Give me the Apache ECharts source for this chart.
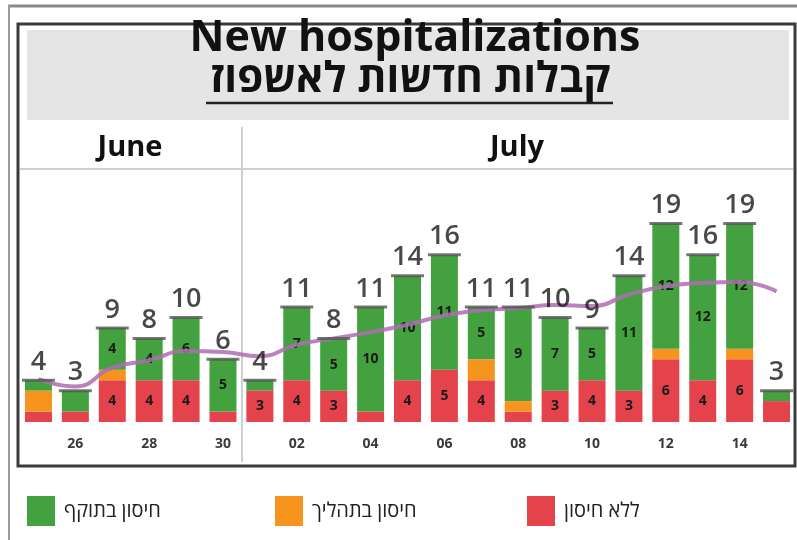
<!DOCTYPE html>
<html>
<head>
<meta charset="utf-8">
<script src="https://cdn.jsdelivr.net/npm/echarts@6/dist/echarts.min.js"></script>
<style>
  html, body { margin: 0; background: #fff; }
  #chart { width: 797px; height: 540px; }
</style>
</head>
<body>
<div id="chart"></div>
<script>
// June 25 .. July 15
const days = ['25', '26', '27', '28', '29', '30',
  '01', '02', '03', '04', '05', '06', '07', '08', '09', '10', '11', '12', '13', '14', '15']
const noVaccine = [1, 1, 4, 4, 4, 1, 3, 4, 3, 1, 4, 5, 4, 1, 3, 4, 3, 6, 4, 6, 2]
const inProcess = [2, 0, 1, 0, 0, 0, 0, 0, 0, 0, 0, 0, 2, 1, 0, 0, 0, 1, 0, 1, 0]
const vaccinated = [1, 2, 4, 4, 6, 5, 1, 7, 5, 10, 10, 11, 5, 9, 7, 5, 11, 12, 12, 12, 1]
const totals = [4, 3, 9, 8, 10, 6, 4, 11, 8, 11, 14, 16, 11, 11, 10, 9, 14, 19, 16, 19, 3]
const avgLine = [4.1, 3.4, 5.2, 5.9, 6.8, 6.7, 6.3, 7.4, 8.0, 8.6, 9.3, 10.2, 10.7, 10.9, 11.2, 11.1, 12.2, 13.0, 13.3, 13.4, 12.5]

const names = ['ללא חיסון', 'חיסון בתהליך', 'חיסון בתוקף']
const colors = ['#e5434c', '#f7941d', '#43a13f']

const font = 'Open Sans, DejaVu Sans, sans-serif'

const chart = echarts.init(document.getElementById('chart'))

const segLabel = {
  show: true,
  position: 'inside',
  color: '#1a1a1a',
  fontWeight: 'bold',
  fontSize: 14,
  fontFamily: font,
  formatter: p => (p.value >= 3 ? p.value : '')
}

chart.setOption({
  animation: false,
  grid: { left: 20, width: 775, top: 213, height: 209 },
  xAxis: {
    type: 'category',
    data: days,
    axisLine: { show: false },
    axisTick: { show: false },
    axisLabel: {
      interval: (idx) => idx % 2 === 1,
      margin: 15,
      fontSize: 14,
      fontWeight: 'bold',
      color: '#3a3a3a',
      fontFamily: font
    }
  },
  yAxis: {
    type: 'value',
    min: 0,
    max: 20,
    show: false,
    splitLine: { show: false }
  },
  legend: [0, 1, 2].map(i => ({
    data: [names[2 - i]],
    left: [22, 270, 522][i],
    top: 491,
    icon: 'rect',
    itemWidth: 28,
    itemHeight: 30,
    textStyle: { fontSize: 20, color: '#222', fontFamily: font, padding: [0, 0, 0, 4] },
    selectedMode: false
  })),
  graphic: [
    { type: 'line', shape: { x1: 8, y1: 6, x2: 797, y2: 6 }, style: { stroke: '#8a8a8a', lineWidth: 3 } },
    { type: 'line', shape: { x1: 9, y1: 5, x2: 9, y2: 540 }, style: { stroke: '#9a9a9a', lineWidth: 2 } },
    { type: 'rect', shape: { x: 27, y: 30, width: 762, height: 90 }, style: { fill: '#e5e5e5' } },
    { type: 'rect', shape: { x: 18, y: 24, width: 777, height: 442 }, style: { fill: 'none', stroke: '#3a3a3a', lineWidth: 3 } },
    { type: 'line', shape: { x1: 20, y1: 169, x2: 793, y2: 169 }, style: { stroke: '#cfcfcf', lineWidth: 2 } },
    { type: 'line', shape: { x1: 242, y1: 127, x2: 242, y2: 462 }, style: { stroke: '#cfcfcf', lineWidth: 2 } },
    {
      type: 'text', x: 415, y: 39,
      style: { text: 'New hospitalizations', textAlign: 'center', textVerticalAlign: 'middle', fontSize: 43, fontWeight: 'bold', fontFamily: font, fill: '#111' }
    },
    {
      type: 'text', x: 410, y: 80,
      style: { text: 'קבלות חדשות לאשפוז', textAlign: 'center', textVerticalAlign: 'middle', fontSize: 42, fontWeight: 'bold', fontFamily: font, fill: '#111' }
    },
    { type: 'line', shape: { x1: 206, y1: 103, x2: 613, y2: 103 }, style: { stroke: '#222', lineWidth: 2.5 } },
    {
      type: 'text', x: 130, y: 148,
      style: { text: 'June', textAlign: 'center', textVerticalAlign: 'middle', fontSize: 29, fontWeight: 'bold', fontFamily: font, fill: '#111' }
    },
    {
      type: 'text', x: 517, y: 148,
      style: { text: 'July', textAlign: 'center', textVerticalAlign: 'middle', fontSize: 29, fontWeight: 'bold', fontFamily: font, fill: '#111' }
    }
  ],
  series: [
    { name: names[0], type: 'bar', stack: 'h', barWidth: 27, data: noVaccine, itemStyle: { color: colors[0] }, label: segLabel },
    { name: names[1], type: 'bar', stack: 'h', barWidth: 27, data: inProcess, itemStyle: { color: colors[1] }, label: segLabel },
    { name: names[2], type: 'bar', stack: 'h', barWidth: 27, data: vaccinated, itemStyle: { color: colors[2] }, label: segLabel },
    {
      name: 'avg',
      type: 'line',
      data: avgLine,
      smooth: true,
      showSymbol: false,
      lineStyle: { color: '#b06cb4', width: 4, opacity: 0.85 },
      z: 3
    },
    {
      name: 'total',
      type: 'scatter',
      data: totals,
      symbol: 'rect',
      symbolSize: [33, 3],
      itemStyle: { color: '#555' },
      label: {
        show: true,
        position: 'top',
        distance: 3,
        fontSize: 27,
        fontWeight: 600,
        color: '#1a1a1a',
        fontFamily: font
      },
      z: 4
    }
  ]
})
</script>
</body>
</html>
